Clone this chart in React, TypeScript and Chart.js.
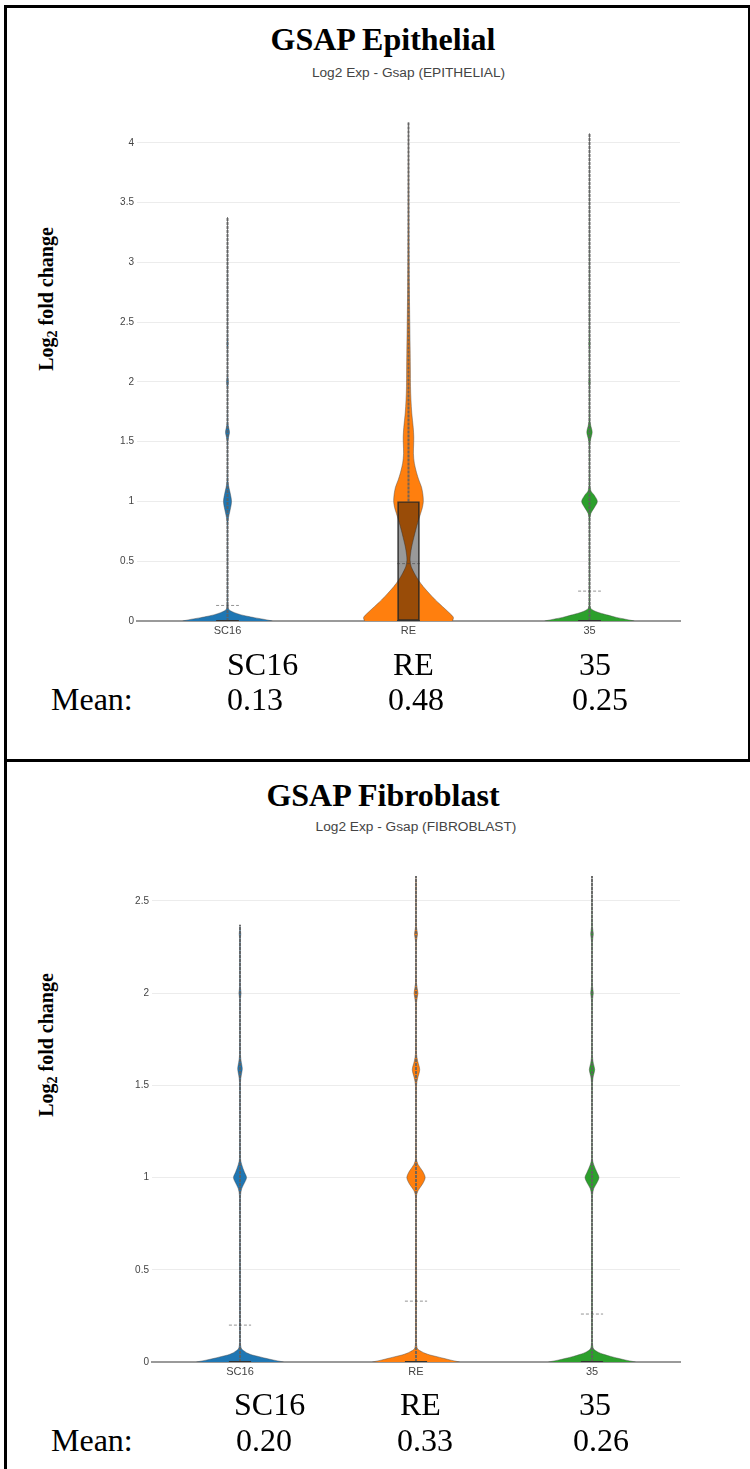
import React, { useEffect, useRef } from 'react';
import { Chart, registerables } from 'chart.js';

Chart.register(...registerables);

// ---------- shared data ----------
const CATEGORIES = ['SC16', 'RE', '35'];
const COLORS = ['#1f77b4', '#ff7f0e', '#2ca02c'];

// ---------- Epithelial panel ----------
const EPI_TITLE = 'GSAP Epithelial';
const EPI_SUBTITLE = 'Log2 Exp - Gsap (EPITHELIAL)';
const EPI_Y_MAX = 4.2;
const EPI_MEANS = [0.13, 0.48, 0.25];
const EPI_MEAN_LABELS = ['0.13', '0.48', '0.25'];
const EPI_Q1 = [0, 0, 0];
const EPI_Q3 = [0, 1, 0];
const EPI_MEDIAN = [0, 0, 0];

const EPI_SC16_VALUES = [0, 0.015, 0.028, 0.04, 0.053, 0.07, 0.085, 0.1, 0.13, 0.3, 0.6, 0.8, 0.86, 0.93, 1.0, 1.07, 1.14, 1.2, 1.5, 1.54, 1.58, 1.62, 1.66, 1.95, 2.0, 2.05, 2.28, 2.32, 2.36, 2.9, 3.38];
const EPI_SC16_DENSITY = [1.0, 0.8, 0.6, 0.44, 0.29, 0.155, 0.067, 0.022, 0.01, 0.006, 0.006, 0.008, 0.02, 0.06, 0.09, 0.06, 0.02, 0.008, 0.008, 0.025, 0.045, 0.025, 0.008, 0.006, 0.02, 0.006, 0.006, 0.014, 0.006, 0.004, 0];

const EPI_RE_VALUES = [0, 0.03, 0.064, 0.12, 0.176, 0.232, 0.287, 0.343, 0.4, 0.455, 0.51, 0.56, 0.62, 0.7, 0.76, 0.84, 0.9, 0.95, 1.0, 1.06, 1.12, 1.18, 1.24, 1.32, 1.4, 1.48, 1.54, 1.62, 1.74, 1.85, 1.96, 2.1, 2.24, 2.46, 2.8, 3.1, 3.4, 3.8, 4.17];
const EPI_RE_DENSITY = [0.98, 1.0, 0.92, 0.76, 0.6, 0.46, 0.33, 0.22, 0.13, 0.06, 0.035, 0.045, 0.07, 0.12, 0.16, 0.22, 0.27, 0.31, 0.33, 0.32, 0.29, 0.23, 0.18, 0.13, 0.11, 0.115, 0.118, 0.105, 0.073, 0.055, 0.045, 0.042, 0.038, 0.03, 0.018, 0.012, 0.008, 0.004, 0];

const EPI_35_VALUES = [0, 0.015, 0.03, 0.045, 0.06, 0.075, 0.09, 0.105, 0.13, 0.5, 0.85, 0.9, 0.95, 1.0, 1.05, 1.09, 1.15, 1.48, 1.52, 1.58, 1.64, 1.68, 1.96, 2.0, 2.04, 2.28, 2.32, 2.36, 3.0, 4.08];
const EPI_35_DENSITY = [1.0, 0.8, 0.6, 0.45, 0.3, 0.17, 0.08, 0.03, 0.012, 0.008, 0.01, 0.03, 0.11, 0.175, 0.11, 0.03, 0.01, 0.01, 0.025, 0.06, 0.025, 0.01, 0.008, 0.016, 0.008, 0.008, 0.014, 0.008, 0.005, 0];

// ---------- Fibroblast panel ----------
const FIB_TITLE = 'GSAP Fibroblast';
const FIB_SUBTITLE = 'Log2 Exp - Gsap (FIBROBLAST)';
const FIB_Y_MAX = 2.7;
const FIB_MEANS = [0.2, 0.33, 0.26];
const FIB_MEAN_LABELS = ['0.20', '0.33', '0.26'];
const FIB_Q1 = [0, 0, 0];
const FIB_Q3 = [0, 0, 0];
const FIB_MEDIAN = [0, 0, 0];

const FIB_SC16_VALUES = [0, 0.01, 0.02, 0.03, 0.038, 0.047, 0.056, 0.07, 0.09, 0.12, 0.5, 0.9, 0.94, 0.97, 1.0, 1.03, 1.07, 1.1, 1.52, 1.555, 1.59, 1.625, 1.66, 1.97, 2.0, 2.03, 2.3, 2.32, 2.34, 2.37];
const FIB_SC16_DENSITY = [1.0, 0.78, 0.59, 0.42, 0.28, 0.18, 0.115, 0.04, 0.015, 0.01, 0.01, 0.012, 0.04, 0.1, 0.15, 0.1, 0.04, 0.012, 0.012, 0.03, 0.053, 0.03, 0.012, 0.01, 0.025, 0.01, 0.01, 0.018, 0.01, 0];

const FIB_RE_VALUES = [0, 0.01, 0.02, 0.03, 0.038, 0.047, 0.056, 0.07, 0.09, 0.12, 0.5, 0.9, 0.93, 0.965, 1.0, 1.035, 1.07, 1.1, 1.5, 1.54, 1.585, 1.63, 1.67, 1.95, 2.0, 2.05, 2.28, 2.32, 2.36, 2.6, 2.635];
const FIB_RE_DENSITY = [1.0, 0.8, 0.63, 0.46, 0.32, 0.21, 0.13, 0.04, 0.015, 0.012, 0.012, 0.012, 0.05, 0.15, 0.21, 0.15, 0.05, 0.012, 0.012, 0.04, 0.085, 0.04, 0.012, 0.012, 0.045, 0.012, 0.01, 0.035, 0.01, 0.008, 0];

const FIB_35_VALUES = [0, 0.01, 0.02, 0.03, 0.04, 0.048, 0.056, 0.07, 0.09, 0.12, 0.5, 0.9, 0.94, 0.97, 1.0, 1.03, 1.07, 1.1, 1.51, 1.55, 1.585, 1.62, 1.66, 1.96, 2.0, 2.04, 2.28, 2.32, 2.36, 2.635];
const FIB_35_DENSITY = [1.0, 0.78, 0.6, 0.43, 0.29, 0.19, 0.12, 0.04, 0.015, 0.01, 0.01, 0.01, 0.04, 0.11, 0.16, 0.11, 0.04, 0.01, 0.01, 0.03, 0.062, 0.03, 0.01, 0.01, 0.03, 0.01, 0.01, 0.03, 0.01, 0];

const Y_AXIS_TITLE = 'Log';
const Y_AXIS_SUB = '2';
const Y_AXIS_REST = ' fold change';
const MEAN_LABEL = 'Mean:';

// ---------- style constants ----------
const SERIF = '"Liberation Serif", "Times New Roman", serif';
const SANS = '"Liberation Sans", Arial, sans-serif';
const VIOLIN_HALF = 0.248; // category units for density 1
const BOX_HALF = 0.063;

type PanelProps = {
  top: number;
  yMax: number;
  values: number[][];
  densities: number[][];
  q1: number[];
  q3: number[];
  medians: number[];
  means: number[];
  padding: { left: number; right: number; top: number; bottom: number };
};

function ViolinPanel(p: PanelProps) {
  const ref = useRef<HTMLCanvasElement | null>(null);
  useEffect(() => {
    const datasets: any[] = [];
    CATEGORIES.forEach((cat, i) => {
      const vs = p.values[i];
      const ds = p.densities[i];
      const right = vs.map((v, k) => ({ x: i + ds[k] * VIOLIN_HALF, y: v }));
      const left = vs.map((v, k) => ({ x: i - ds[k] * VIOLIN_HALF, y: v })).reverse();
      datasets.push({
        type: 'scatter',
        label: cat,
        data: [...right, ...left],
        showLine: true,
        fill: 'shape',
        backgroundColor: COLORS[i],
        borderColor: 'rgba(70,70,70,0.55)',
        borderWidth: 0.8,
        pointRadius: 0,
        tension: 0.3,
        order: 5,
      });
      datasets.push({
        type: 'scatter',
        label: cat + ' whisker',
        data: [
          { x: i, y: p.q3[i] },
          { x: i, y: vs[vs.length - 1] },
        ],
        showLine: true,
        borderColor: 'rgba(95,95,95,0.85)',
        borderWidth: 2,
        borderDash: [3, 1],
        pointRadius: 0,
        order: 4,
      });
      datasets.push({
        type: 'scatter',
        label: cat + ' median',
        data: [
          { x: i - BOX_HALF, y: p.medians[i] },
          { x: i + BOX_HALF, y: p.medians[i] },
        ],
        showLine: true,
        borderColor: '#333',
        borderWidth: 2,
        pointRadius: 0,
        order: 1,
      });
      datasets.push({
        type: 'scatter',
        label: cat + ' mean',
        data: [
          { x: i - BOX_HALF, y: p.means[i] },
          { x: i + BOX_HALF, y: p.means[i] },
        ],
        showLine: true,
        borderColor: 'rgba(60,60,60,0.55)',
        borderWidth: 1,
        borderDash: [3, 2],
        pointRadius: 0,
        order: 0,
      });
    });
    datasets.push({
      type: 'bar',
      label: 'box',
      data: CATEGORIES.map((c, i) => ({ x: i, y: [p.q1[i], p.q3[i]] })),
      backgroundColor: 'rgba(0,0,0,0.4)',
      borderColor: 'rgba(50,50,50,0.9)',
      borderWidth: 1,
      borderSkipped: false,
      barThickness: 22,
      order: 2,
    });

    const chart = new Chart(ref.current as HTMLCanvasElement, {
      type: 'scatter',
      data: { datasets },
      options: {
        responsive: false,
        maintainAspectRatio: false,
        animation: false,
        events: [],
        layout: { padding: p.padding },
        plugins: {
          legend: { display: false },
          tooltip: { enabled: false },
          title: { display: false },
        },
        scales: {
          x: {
            type: 'linear',
            offset: false,
            min: -0.5,
            max: CATEGORIES.length - 0.5,
            afterBuildTicks: (s: any) => {
              s.ticks = CATEGORIES.map((_, i) => ({ value: i }));
            },
            afterFit: (s: any) => {
              s.height = 20;
            },
            ticks: {
              autoSkip: false,
              maxRotation: 0,
              padding: 3,
              color: '#444',
              font: { family: SANS, size: 11 },
              callback: (v: any) => CATEGORIES[Number(v)] ?? '',
            },
            grid: { display: false, drawTicks: false, offset: false },
            border: { display: true, color: '#9a9a9a', width: 2 },
          },
          y: {
            type: 'linear',
            min: 0,
            max: p.yMax,
            afterFit: (s: any) => {
              s.width = 40;
            },
            ticks: {
              stepSize: 0.5,
              includeBounds: false,
              padding: 3,
              color: '#444',
              font: { family: SANS, size: 10 },
              callback: (v: any) => String(Math.round(Number(v) * 10) / 10),
            },
            grid: {
              drawTicks: false,
              color: (ctx: any) => (ctx.tick && ctx.tick.value === 0 ? 'rgba(0,0,0,0)' : '#ececec'),
              lineWidth: 1,
            },
            border: { display: false },
          },
        },
      } as any,
    });
    return () => chart.destroy();
  }, []);
  return (
    <canvas
      ref={ref}
      width={750}
      height={560}
      style={{ position: 'absolute', left: 0, top: p.top, width: 750, height: 560 }}
    />
  );
}

function Txt(props: { x: number; y: number; size: number; bold?: boolean; font?: string; color?: string; children: any; center?: boolean; width?: number }) {
  const style: any = {
    position: 'absolute',
    top: props.y,
    left: props.x,
    fontFamily: props.font ?? SERIF,
    fontSize: props.size,
    fontWeight: props.bold ? 'bold' : 'normal',
    lineHeight: 1,
    whiteSpace: 'nowrap',
    color: props.color ?? '#000',
  };
  if (props.center) {
    style.width = props.width;
    style.textAlign = 'center';
  }
  return <div style={style}>{props.children}</div>;
}

function YTitle(props: { cx: number; cy: number }) {
  return (
    <div
      style={{
        position: 'absolute',
        left: props.cx,
        top: props.cy,
        transform: 'translate(-50%, -50%) rotate(-90deg)',
        fontFamily: SERIF,
        fontWeight: 'bold',
        fontSize: 20,
        lineHeight: '20px',
        whiteSpace: 'nowrap',
        color: '#000',
      }}
    >
      {Y_AXIS_TITLE}
      <sub style={{ fontSize: 14, verticalAlign: '-4px', lineHeight: 0 }}>{Y_AXIS_SUB}</sub>
      {Y_AXIS_REST}
    </div>
  );
}

export default function App() {
  const black = '#000';
  return (
    <div style={{ position: 'absolute', left: 0, top: 0, width: 750, height: 1469, background: '#fff', overflow: 'hidden' }}>
      {/* borders */}
      <div style={{ position: 'absolute', left: 4, top: 5, width: 3, height: 1464, background: black }} />
      <div style={{ position: 'absolute', left: 4, top: 5, width: 746, height: 3, background: black }} />
      <div style={{ position: 'absolute', left: 748, top: 5, width: 2, height: 757, background: black }} />
      <div style={{ position: 'absolute', left: 4, top: 759, width: 746, height: 3, background: black }} />

      {/* Panel 1 */}
      <Txt x={0} width={766} center y={23} size={32} bold>{EPI_TITLE}</Txt>
      <Txt x={137} width={543} center y={66} size={13.7} font={SANS} color="#444">{EPI_SUBTITLE}</Txt>
      <YTitle cx={46} cy={299} />
      <ViolinPanel
        top={100}
        yMax={EPI_Y_MAX}
        values={[EPI_SC16_VALUES, EPI_RE_VALUES, EPI_35_VALUES]}
        densities={[EPI_SC16_DENSITY, EPI_RE_DENSITY, EPI_35_DENSITY]}
        q1={EPI_Q1}
        q3={EPI_Q3}
        medians={EPI_MEDIAN}
        means={EPI_MEANS}
        padding={{ left: 97, right: 70, top: 19, bottom: 19 }}
      />
      <Txt x={227} y={648} size={32}>{CATEGORIES[0]}</Txt>
      <Txt x={393} y={648} size={32}>{CATEGORIES[1]}</Txt>
      <Txt x={579} y={648} size={32}>{CATEGORIES[2]}</Txt>
      <Txt x={51} y={683} size={32}>{MEAN_LABEL}</Txt>
      <Txt x={227} y={683} size={32}>{EPI_MEAN_LABELS[0]}</Txt>
      <Txt x={388} y={683} size={32}>{EPI_MEAN_LABELS[1]}</Txt>
      <Txt x={572} y={683} size={32}>{EPI_MEAN_LABELS[2]}</Txt>

      {/* Panel 2 */}
      <Txt x={0} width={766} center y={779} size={32} bold>{FIB_TITLE}</Txt>
      <Txt x={152} width={528} center y={820} size={13.7} font={SANS} color="#444">{FIB_SUBTITLE}</Txt>
      <YTitle cx={46} cy={1045} />
      <ViolinPanel
        top={840}
        yMax={FIB_Y_MAX}
        values={[FIB_SC16_VALUES, FIB_RE_VALUES, FIB_35_VALUES]}
        densities={[FIB_SC16_DENSITY, FIB_RE_DENSITY, FIB_35_DENSITY]}
        q1={FIB_Q1}
        q3={FIB_Q3}
        medians={FIB_MEDIAN}
        means={FIB_MEANS}
        padding={{ left: 112, right: 70, top: 24, bottom: 18 }}
      />
      <Txt x={234} y={1388} size={32}>{CATEGORIES[0]}</Txt>
      <Txt x={400} y={1388} size={32}>{CATEGORIES[1]}</Txt>
      <Txt x={579} y={1388} size={32}>{CATEGORIES[2]}</Txt>
      <Txt x={51} y={1424} size={32}>{MEAN_LABEL}</Txt>
      <Txt x={236} y={1424} size={32}>{FIB_MEAN_LABELS[0]}</Txt>
      <Txt x={397} y={1424} size={32}>{FIB_MEAN_LABELS[1]}</Txt>
      <Txt x={573} y={1424} size={32}>{FIB_MEAN_LABELS[2]}</Txt>
    </div>
  );
}
